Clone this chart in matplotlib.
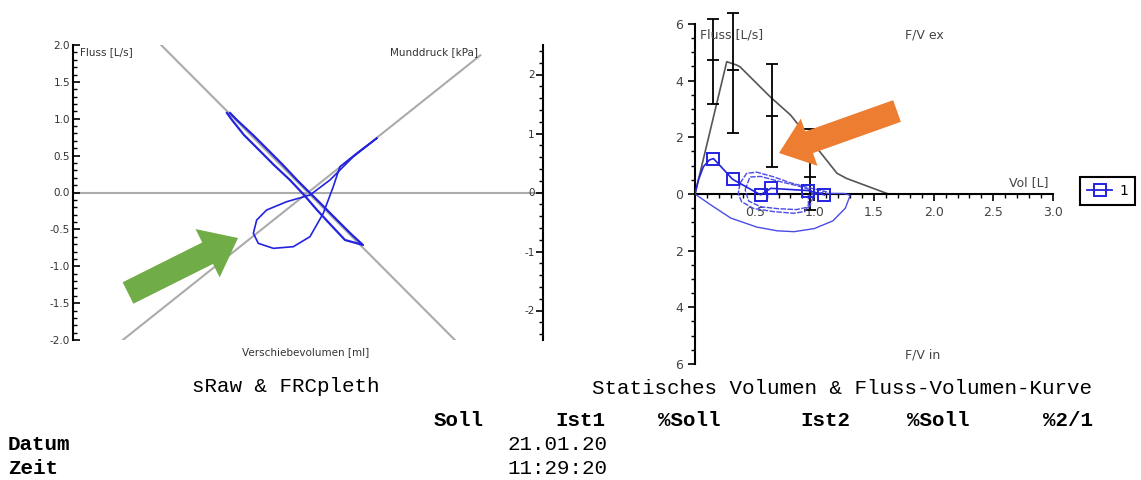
import matplotlib
matplotlib.use('Agg')
import matplotlib.pyplot as plt
from matplotlib.ticker import MultipleLocator, FuncFormatter
from matplotlib.patches import FancyArrow
from matplotlib.lines import Line2D

plt.rcParams['axes.unicode_minus'] = False
plt.rcParams['font.family'] = ['DejaVu Sans']

W, H = 1141, 480

# --- sRaw & FRCpleth (left) ---
# gray reference lines (flow vs. shift volume)
sraw_ref_vol = [-75, 75]
sraw_ref_flow = [2.0, -2.0]
frc_ref_vol = [-96, 88]
frc_ref_flow = [-2.03, 1.86]

# narrow sRaw loop along the descending line
sraw_loop_vol = [-39.8, -36.3, -28.1, -20.4, -12.8, -5.6, 0.5, 7.2, 14.8, 22.5, 28.1,
                 18.9, 11.7, 4.6, -2.0, -9.2, -17.4, -25.0, -32.7, -38.8, -41.4]
sraw_loop_flow = [1.078, 0.983, 0.780, 0.576, 0.373, 0.169, 0.007, -0.169, -0.373, -0.576, -0.712,
                  -0.644, -0.441, -0.237, -0.034, 0.169, 0.373, 0.576, 0.780, 0.983, 1.078]

# teardrop FRC loop
frc_loop_vol = [35.1, 23.1, 11.2, 1.0, -10.9, -21.1, -26.2, -27.9, -25.4, -17.7, -7.5,
                1.0, 7.8, 12.9, 16.3, 24.9, 35.1]
frc_loop_flow = [0.735, 0.485, 0.169, -0.034, -0.125, -0.237, -0.373, -0.553, -0.689, -0.757, -0.735,
                 -0.599, -0.282, 0.079, 0.350, 0.532, 0.735]

# --- Fluss-Volumen-Kurve (right) ---
pred_curve_vol = [0, 0.266, 0.35, 0.377, 0.63, 0.80, 0.89, 1.19, 1.27, 1.62]
pred_curve_flow = [0, 4.67, 4.55, 4.49, 3.43, 2.79, 2.32, 0.73, 0.55, 0.0]

bar_vol = [0.155, 0.32, 0.645, 0.96]
bar_pred = [4.73, 4.38, 2.76, 0.60]
bar_low = [3.18, 2.16, 0.96, -0.55]
bar_high = [6.18, 6.38, 4.58, 2.30]

ex_vol = [0, 0.028, 0.07, 0.12, 0.155, 0.315, 0.43, 0.55, 0.635, 0.95, 1.085]
ex_flow = [0, 0.49, 0.96, 1.2, 1.25, 0.52, 0.25, -0.03, 0.2, 0.12, -0.03]

param_vol = [0.155, 0.315, 0.55, 0.635, 0.95, 1.085]
param_flow = [1.25, 0.52, -0.03, 0.2, 0.12, -0.03]

outer_vol = [0, 0.127, 0.30, 0.52, 0.69, 0.83, 1.0, 1.155, 1.26, 1.30, 1.25, 1.1]
outer_flow = [0, -0.37, -0.85, -1.17, -1.3, -1.33, -1.22, -0.95, -0.5, -0.05, 0.02, 0.02]

inner_a_vol = [0.377, 0.433, 0.517, 0.656, 0.796, 0.936, 1.10, 0.95, 0.95, 0.92, 0.824, 0.656,
               0.49, 0.39, 0.363, 0.377]
inner_a_flow = [0.38, 0.73, 0.77, 0.61, 0.40, 0.24, 0.08, -0.05, -0.39, -0.62, -0.68, -0.62,
                -0.51, -0.27, 0.02, 0.38]

inner_b_vol = [0.42, 0.46, 0.55, 0.70, 0.85, 0.97, 0.99, 0.96, 0.85, 0.70, 0.55, 0.45, 0.42]
inner_b_flow = [0.15, 0.6, 0.62, 0.45, 0.3, 0.15, -0.1, -0.45, -0.55, -0.52, -0.45, -0.25, 0.15]

header_labels = ['Soll', 'Ist1', '%Soll', 'Ist2', '%Soll', '%2/1']
header_right_px = [484, 605, 720, 850, 970, 1093]
row_labels = ['Datum', 'Zeit']
row_values = ['21.01.20', '11:29:20']

blue = '#2323e0'
loop_blue = '#4b4be6'
gray = '#ababab'

fig = plt.figure(figsize=(W / 100, H / 100), dpi=100)

# left chart
axl = fig.add_axes([73 / W, 1 - 340 / H, 470 / W, 295 / H])
axl.set_xlim(-120, 120)
axl.set_ylim(-2, 2)
for s in ['top', 'bottom', 'right']:
    axl.spines[s].set_visible(False)
axl.spines['left'].set_linewidth(1.5)
axl.set_xticks([])
axl.yaxis.set_major_locator(MultipleLocator(0.5))
axl.yaxis.set_minor_locator(MultipleLocator(0.1))
axl.yaxis.set_major_formatter(FuncFormatter(lambda v, p: f'{v:.1f}'))
axl.tick_params(axis='y', which='major', direction='in', length=5, width=1.2,
                labelsize=7.5, labelcolor='#333333', pad=2)
axl.tick_params(axis='y', which='minor', direction='in', length=3, width=1)
axl.axhline(0, color=gray, lw=1.5, zorder=1)
axl.plot(sraw_ref_vol, sraw_ref_flow, color=gray, lw=1.5, zorder=1)
axl.plot(frc_ref_vol, frc_ref_flow, color=gray, lw=1.5, zorder=1)
axl.plot(sraw_loop_vol, sraw_loop_flow, color=blue, lw=1.6, zorder=3)
axl.plot(frc_loop_vol, frc_loop_flow, color=blue, lw=1.2, zorder=3)
axl.text(0.015, 0.975, 'Fluss [L/s]', transform=axl.transAxes, fontsize=7.5,
         color='#333333', va='center', ha='left')
axl.text(0.862, 0.975, 'Munddruck [kPa]', transform=axl.transAxes, fontsize=7.5,
         color='#333333', va='center', ha='right')
axl.text(0.494, -0.04, 'Verschiebevolumen [ml]', transform=axl.transAxes, fontsize=7.5,
         color='#333333', va='center', ha='center')

axp = axl.twinx()
axp.set_ylim(-2.5, 2.5)
for s in ['top', 'bottom', 'left']:
    axp.spines[s].set_visible(False)
axp.spines['right'].set_linewidth(1.5)
axp.yaxis.set_major_locator(MultipleLocator(1))
axp.yaxis.set_minor_locator(MultipleLocator(0.2))
axp.yaxis.set_major_formatter(FuncFormatter(lambda v, p: f'{v:.0f}'))
axp.tick_params(axis='y', which='major', direction='in', length=5, width=1.2,
                labelsize=7.5, labelcolor='#333333', pad=-6)
axp.tick_params(axis='y', which='minor', direction='in', length=3, width=1)
plt.setp(axp.get_yticklabels(), ha='right')

# right chart
axr = fig.add_axes([695 / W, 1 - 364 / H, 358 / W, 340 / H])
axr.set_xlim(0, 3)
axr.set_ylim(-6, 6)
axr.spines['top'].set_visible(False)
axr.spines['right'].set_visible(False)
axr.spines['bottom'].set_position(('data', 0))
axr.spines['bottom'].set_linewidth(1.5)
axr.spines['left'].set_linewidth(1.5)
axr.xaxis.set_major_locator(MultipleLocator(0.5))
axr.xaxis.set_minor_locator(MultipleLocator(0.1))
axr.yaxis.set_major_locator(MultipleLocator(2))
axr.yaxis.set_minor_locator(MultipleLocator(0.5))
axr.xaxis.set_major_formatter(FuncFormatter(lambda v, p: '' if abs(v) < 1e-9 else f'{v:.1f}'))
axr.yaxis.set_major_formatter(FuncFormatter(lambda v, p: f'{abs(v):.0f}'))
axr.tick_params(which='major', direction='out', length=5, width=1.2,
                labelsize=9, labelcolor='#444444')
axr.tick_params(which='minor', direction='out', length=3, width=1)

axr.plot(pred_curve_vol, pred_curve_flow, color='#555555', lw=1.2, zorder=2)
yerr = [[p - lo for p, lo in zip(bar_pred, bar_low)],
        [hi - p for p, hi in zip(bar_pred, bar_high)]]
eb = axr.errorbar(bar_vol, bar_pred, yerr=yerr, fmt='none', ecolor='black',
                  elinewidth=1.3, capsize=4, capthick=1.3, zorder=3)
for art in eb.lines[1] + eb.lines[2]:
    art.set_clip_on(False)
axr.plot(bar_vol, bar_pred, ls='none', marker='_', ms=8, mew=1.3, color='black', zorder=3)

axr.plot(outer_vol, outer_flow, color=loop_blue, lw=1.0, zorder=4)
axr.plot(inner_a_vol, inner_a_flow, color=loop_blue, lw=1.0, ls=(0, (4, 1)), zorder=4)
axr.plot(inner_b_vol, inner_b_flow, color=loop_blue, lw=1.0, ls=(0, (4, 1)), zorder=4)
axr.plot(ex_vol, ex_flow, color=blue, lw=1.2, zorder=5)
axr.plot(param_vol, param_flow, ls='none', marker='s', ms=8, mfc='none', mec=blue,
         mew=1.4, zorder=6)

axr.text(0.04, 5.61, 'Fluss [L/s]', fontsize=9, color='#444444', va='center')
axr.text(1.76, 5.61, 'F/V ex', fontsize=9, color='#444444', va='center')
axr.text(2.96, 0.42, 'Vol [L]', fontsize=9, color='#444444', va='center', ha='right')
axr.text(1.76, -5.68, 'F/V in', fontsize=9, color='#444444', va='center')

handle = Line2D([0], [0], color=blue, lw=1.3, marker='s', ms=8, mfc='none', mec=blue, mew=1.4)
leg = fig.legend(handles=[handle], labels=['1'], loc='center',
                 bbox_to_anchor=(1107.5 / W, 1 - 191 / H), frameon=True, fancybox=False,
                 edgecolor='black', framealpha=1, fontsize=10, handlelength=1.8,
                 borderpad=0.5, handletextpad=0.5)
leg.get_frame().set_linewidth(1.5)

# highlight arrows (in inches)
fig.add_artist(FancyArrow(1.28, (H - 293) / 100, 1.10, 0.55, width=0.24, head_width=0.54,
                          head_length=0.34, length_includes_head=True,
                          color='#70ad47', lw=0, transform=fig.dpi_scale_trans))
fig.add_artist(FancyArrow(8.97, (H - 111) / 100, -1.18, -0.42, width=0.23, head_width=0.50,
                          head_length=0.32, length_includes_head=True,
                          color='#ed7d31', lw=0, transform=fig.dpi_scale_trans))

# report text
mono = 'Liberation Mono'
fig.text(192 / W, 1 - 386 / H, 'sRaw & FRCpleth', family=mono, fontsize=15, va='center')
fig.text(592 / W, 1 - 388 / H, 'Statisches Volumen & Fluss-Volumen-Kurve', family=mono,
         fontsize=15, va='center')
for lab, xr in zip(header_labels, header_right_px):
    fig.text(xr / W, 1 - 420 / H, lab, family=mono, fontsize=15, fontweight='bold',
             va='center', ha='right')
for i, (lab, val) in enumerate(zip(row_labels, row_values)):
    y = 1 - (445 + 23 * i) / H
    fig.text(8 / W, y, lab, family=mono, fontsize=15, fontweight='bold', va='center')
    fig.text(607 / W, y, val, family=mono, fontsize=15, va='center', ha='right')

fig.savefig('out.png', dpi=100)
